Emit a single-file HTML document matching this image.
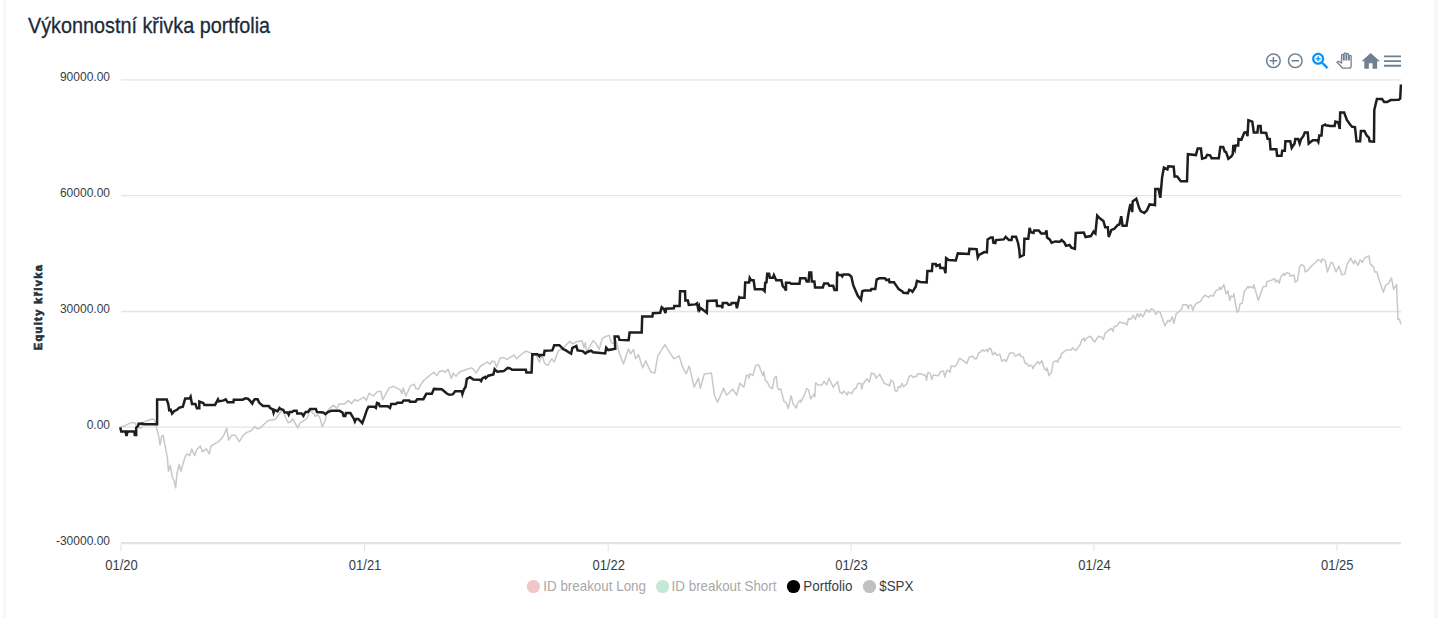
<!DOCTYPE html>
<html><head><meta charset="utf-8">
<style>
html,body{margin:0;padding:0;background:#fff;}
body{width:1447px;height:618px;position:relative;overflow:hidden;font-family:"Liberation Sans",sans-serif;}
.edgeL{position:absolute;left:3px;top:0;width:3px;height:618px;background:#f6f7f9;}
.edgeR{position:absolute;left:1434px;top:0;width:4px;height:618px;background:#f7f8fa;}
.title{position:absolute;left:28px;top:13.6px;font-size:22px;line-height:24px;color:#1b2b3b;white-space:nowrap;transform:scaleX(0.90);transform-origin:0 0;-webkit-text-stroke:0.3px #1b2b3b;}
svg.chart{position:absolute;left:0;top:0;}
</style></head>
<body>
<div class="edgeL"></div><div class="edgeR"></div>
<div class="title">Výkonnostní křivka portfolia</div>
<svg class="chart" width="1447" height="618" viewBox="0 0 1447 618">
<g><line x1="121" y1="79.9" x2="1401" y2="79.9" stroke="#e4e4e4" stroke-width="1.3"/><line x1="121" y1="195.7" x2="1401" y2="195.7" stroke="#e4e4e4" stroke-width="1.3"/><line x1="121" y1="311.5" x2="1401" y2="311.5" stroke="#e4e4e4" stroke-width="1.3"/><line x1="121" y1="427.2" x2="1401" y2="427.2" stroke="#e4e4e4" stroke-width="1.3"/><line x1="121" y1="543.1" x2="1401" y2="543.1" stroke="#e2e2e2" stroke-width="2.4"/><line x1="121" y1="544" x2="121" y2="551" stroke="#e6e6e6" stroke-width="1.2"/><line x1="364.6" y1="544" x2="364.6" y2="551" stroke="#e6e6e6" stroke-width="1.2"/><line x1="608.2" y1="544" x2="608.2" y2="551" stroke="#e6e6e6" stroke-width="1.2"/><line x1="851.0" y1="544" x2="851.0" y2="551" stroke="#e6e6e6" stroke-width="1.2"/><line x1="1094.0" y1="544" x2="1094.0" y2="551" stroke="#e6e6e6" stroke-width="1.2"/><line x1="1336.8" y1="544" x2="1336.8" y2="551" stroke="#e6e6e6" stroke-width="1.2"/></g>
<g font-family="Liberation Sans, sans-serif" font-size="12" fill="#373d3f"><text x="110" y="81.4" text-anchor="end">90000.00</text><text x="110" y="197.2" text-anchor="end">60000.00</text><text x="110" y="313.0" text-anchor="end">30000.00</text><text x="110" y="428.7" text-anchor="end">0.00</text><text x="110" y="544.5" text-anchor="end">-30000.00</text></g>
<g font-family="Liberation Sans, sans-serif" font-size="13" fill="#373d3f"><text x="121.5" y="569.8" text-anchor="middle" transform="translate(0 569.8) scale(1 1.1) translate(0 -569.8)">01/20</text><text x="365.1" y="569.8" text-anchor="middle" transform="translate(0 569.8) scale(1 1.1) translate(0 -569.8)">01/21</text><text x="608.7" y="569.8" text-anchor="middle" transform="translate(0 569.8) scale(1 1.1) translate(0 -569.8)">01/22</text><text x="851.5" y="569.8" text-anchor="middle" transform="translate(0 569.8) scale(1 1.1) translate(0 -569.8)">01/23</text><text x="1094.5" y="569.8" text-anchor="middle" transform="translate(0 569.8) scale(1 1.1) translate(0 -569.8)">01/24</text><text x="1337.3" y="569.8" text-anchor="middle" transform="translate(0 569.8) scale(1 1.1) translate(0 -569.8)">01/25</text></g>
<text x="0" y="0" transform="translate(42 307) rotate(-90)" text-anchor="middle" font-family="Liberation Sans, sans-serif" font-size="11" font-weight="bold" letter-spacing="1.4" fill="#263238" stroke="#263238" stroke-width="0.7">Equity křivka</text>
<path d="M120.7 426.7 L124.6 425.8 L131.4 422.4 L135.2 422.9 L136.7 426.7 L138.6 427.7 L141.1 428.2 L143.5 422.4 L148.8 420.0 L150.8 419.5 L152.7 419.0 L154.2 419.5 L155.6 423.3 L156.2 426.6 L158.7 436.3 L160.0 445.0 L161.6 436.3 L163.2 435.3 L165.5 448.0 L167.4 457.7 L168.4 471.3 L170.3 465.4 L172.3 477.1 L174.2 481.0 L175.6 487.8 L177.1 473.2 L179.1 464.5 L181.0 471.3 L183.0 463.5 L184.9 457.7 L186.8 453.8 L189.8 455.7 L191.7 448.9 L194.6 455.7 L196.6 449.9 L200.4 446.0 L202.4 451.8 L206.3 448.9 L209.2 453.8 L211.1 446.0 L214.0 444.1 L217.9 442.1 L221.8 438.3 L223.7 435.3 L226.7 428.2 L228.6 440.2 L231.5 435.3 L235.4 435.3 L239.3 441.7 L243.2 435.3 L247.0 432.4 L250.9 430.9 L254.8 426.6 L256.7 428.5 L259.7 428.5 L264.5 423.7 L268.4 420.4 L272.3 419.8 L274.0 419.8 L276.8 417.6 L280.2 412.5 L283.0 409.1 L284.7 415.3 L288.1 422.7 L290.9 421.5 L292.6 418.7 L297.7 427.8 L300.0 423.2 L305.1 419.8 L307.4 417.6 L310.2 410.2 L313.6 413.6 L315.3 416.4 L317.6 414.7 L319.8 417.6 L322.3 426.6 L325.5 419.8 L326.1 413.0 L328.9 409.1 L333.4 405.1 L336.8 408.5 L339.1 404.0 L344.7 404.0 L348.1 400.6 L351.5 403.4 L354.9 399.4 L357.2 401.1 L364.0 397.2 L366.3 400.6 L369.1 393.2 L373.1 396.0 L377.6 391.5 L381.0 391.5 L382.7 400.0 L388.9 388.1 L393.4 386.4 L400.2 389.8 L401.9 393.8 L403.1 388.1 L405.9 396.0 L410.4 385.9 L414.4 384.2 L415.5 388.1 L418.4 389.3 L420.6 384.7 L424.0 380.2 L430.0 375.1 L433.9 372.4 L437.1 375.7 L439.1 371.8 L442.9 370.5 L444.9 372.4 L448.1 369.2 L451.4 378.3 L453.3 373.1 L455.9 376.3 L459.8 371.8 L463.7 370.5 L466.9 369.2 L471.4 367.9 L474.0 369.8 L476.0 373.1 L480.5 366.0 L484.4 364.0 L487.0 362.1 L490.2 364.0 L492.1 360.8 L494.7 362.1 L496.7 367.2 L499.9 358.2 L503.8 357.5 L506.4 359.5 L509.0 358.2 L514.1 355.0 L516.7 358.8 L520.6 355.0 L525.8 351.1 L531.0 353.0 L533.6 355.6 L536.1 355.0 L539.4 362.1 L542.0 355.0 L544.6 363.4 L547.8 365.3 L551.7 358.8 L554.3 362.1 L558.2 351.1 L563.3 347.8 L569.8 341.4 L572.4 343.9 L577.6 341.4 L582.1 340.7 L584.0 347.8 L585.3 342.7 L586.6 351.7 L587.0 351.7 L593.1 340.6 L596.1 343.7 L599.2 349.3 L602.2 338.6 L605.2 336.6 L609.3 335.6 L611.3 342.6 L614.3 343.7 L616.4 340.6 L619.4 353.8 L623.4 363.9 L628.5 348.7 L630.5 353.8 L633.5 349.3 L635.6 358.8 L638.6 354.8 L642.6 367.9 L645.7 360.8 L650.7 372.0 L654.8 373.0 L657.8 355.8 L664.9 344.7 L667.9 349.7 L674.0 358.8 L679.1 355.8 L682.1 365.9 L686.1 374.0 L689.2 365.9 L694.2 387.1 L698.3 378.0 L700.3 388.2 L704.3 374.0 L711.4 373.0 L714.4 395.2 L717.5 402.3 L723.6 388.2 L726.6 395.2 L732.7 389.2 L736.7 395.2 L740.0 383.0 L741.3 384.7 L743.9 387.2 L746.5 375.0 L748.4 376.2 L749.1 378.2 L749.7 373.7 L752.9 375.6 L755.5 365.9 L758.1 364.6 L759.4 366.5 L762.7 375.6 L763.9 371.7 L765.2 380.1 L767.2 382.1 L769.8 387.2 L772.4 388.5 L774.3 378.2 L776.2 376.2 L777.5 387.2 L778.8 389.8 L780.8 388.9 L784.0 401.5 L786.6 403.4 L788.2 408.6 L791.1 395.7 L793.1 404.1 L796.3 408.0 L797.6 403.4 L800.2 400.2 L800.8 402.1 L804.7 394.4 L806.7 388.5 L808.6 389.8 L810.6 398.9 L814.4 393.7 L814.8 397.0 L815.7 382.7 L817.7 384.7 L821.6 385.3 L824.1 381.4 L826.7 384.7 L829.1 378.2 L833.2 387.2 L837.7 381.4 L839.7 391.8 L842.3 393.7 L843.6 391.1 L847.4 395.0 L848.1 391.8 L852.0 393.7 L853.9 389.2 L855.9 388.5 L857.8 383.4 L861.0 383.4 L861.7 389.2 L863.0 384.0 L866.9 378.8 L869.4 382.1 L871.4 373.0 L874.6 374.3 L875.9 378.2 L879.8 374.3 L884.3 383.4 L887.6 384.7 L889.5 386.0 L890.8 380.1 L893.4 382.1 L895.3 391.1 L897.3 391.1 L898.2 386.7 L900.2 387.3 L902.1 383.4 L903.4 386.7 L906.7 384.1 L909.2 376.3 L911.2 375.4 L913.1 377.2 L916.4 376.3 L917.7 373.7 L921.5 373.7 L922.8 375.0 L925.4 375.0 L926.5 380.2 L928.0 372.4 L930.0 373.1 L931.9 379.5 L933.2 375.0 L938.4 375.7 L940.3 371.8 L943.5 371.1 L944.8 377.0 L946.8 370.5 L949.4 371.1 L950.0 372.4 L951.3 366.0 L954.5 366.6 L957.1 364.0 L959.5 358.2 L963.6 360.8 L966.8 363.4 L969.4 356.9 L972.7 356.2 L974.6 358.8 L976.6 358.8 L978.5 353.0 L981.1 351.7 L982.4 349.8 L984.3 351.1 L986.9 349.5 L987.6 351.7 L989.5 348.2 L990.8 348.5 L992.7 354.7 L994.7 352.4 L996.6 355.2 L999.9 354.3 L1001.8 361.2 L1004.4 359.5 L1006.3 361.4 L1009.6 353.0 L1013.4 353.0 L1015.4 356.2 L1018.6 354.3 L1019.9 353.7 L1020.6 356.2 L1023.2 356.9 L1025.1 363.4 L1027.0 363.4 L1028.3 366.0 L1030.3 365.3 L1032.2 366.0 L1032.9 368.5 L1034.8 365.3 L1038.0 361.4 L1039.3 364.0 L1041.9 360.8 L1044.5 369.2 L1046.5 370.5 L1047.1 367.9 L1049.0 375.7 L1051.6 371.8 L1053.2 362.2 L1056.5 360.6 L1057.8 362.2 L1058.9 358.2 L1060.5 358.2 L1061.3 353.8 L1066.2 350.1 L1071.0 350.1 L1072.7 347.7 L1075.9 350.6 L1078.3 346.9 L1079.9 345.2 L1081.6 340.4 L1084.0 338.0 L1084.8 341.2 L1087.2 337.6 L1090.5 336.3 L1094.5 342.0 L1098.5 336.3 L1101.8 337.2 L1103.4 339.6 L1105.0 333.1 L1108.3 330.7 L1111.5 328.3 L1113.1 331.5 L1113.9 326.6 L1116.3 326.6 L1119.6 321.8 L1122.8 323.4 L1124.4 322.6 L1126.9 325.0 L1128.5 318.5 L1130.9 319.4 L1133.3 315.3 L1135.4 319.4 L1137.4 313.7 L1139.0 316.9 L1140.6 313.7 L1143.0 316.9 L1146.3 309.6 L1149.5 312.1 L1151.1 308.8 L1153.6 309.6 L1156.0 314.5 L1157.6 311.3 L1160.0 312.1 L1164.9 325.8 L1168.1 320.2 L1169.7 321.8 L1172.2 316.9 L1173.8 323.4 L1176.2 313.7 L1179.4 311.3 L1181.9 308.8 L1182.7 304.8 L1186.7 304.8 L1188.3 308.8 L1189.2 305.3 L1191.6 305.3 L1192.7 310.5 L1194.0 307.2 L1196.4 303.2 L1200.5 301.6 L1202.1 298.3 L1205.3 295.1 L1208.6 297.4 L1210.8 295.3 L1213.0 296.3 L1215.9 290.9 L1218.8 289.4 L1219.6 287.2 L1221.0 289.4 L1223.9 284.6 L1226.1 293.8 L1228.0 290.9 L1229.8 300.4 L1231.2 296.0 L1233.4 296.7 L1233.8 293.8 L1237.0 312.0 L1238.5 311.3 L1240.0 304.0 L1242.1 303.3 L1244.3 291.6 L1248.0 286.5 L1248.7 288.0 L1250.2 286.5 L1253.1 288.0 L1253.8 284.6 L1258.2 300.4 L1263.3 286.5 L1266.2 286.5 L1266.9 281.7 L1272.0 280.0 L1274.9 278.5 L1275.6 282.1 L1277.8 280.0 L1279.3 283.2 L1280.7 277.0 L1283.7 273.4 L1284.4 275.6 L1286.6 272.7 L1289.5 273.4 L1290.2 276.3 L1293.9 274.9 L1295.3 282.1 L1297.5 280.7 L1299.7 266.1 L1301.9 264.7 L1304.1 266.1 L1305.2 271.9 L1307.7 270.5 L1309.9 267.6 L1312.8 264.7 L1315.7 262.5 L1317.9 259.6 L1320.1 260.3 L1321.5 262.5 L1322.3 258.8 L1325.2 260.3 L1327.4 271.9 L1331.0 262.5 L1332.5 262.5 L1336.1 271.9 L1339.0 266.1 L1341.9 274.9 L1344.8 274.1 L1347.0 264.7 L1350.7 258.1 L1353.6 263.9 L1355.0 260.3 L1358.0 265.4 L1360.1 259.6 L1362.3 262.5 L1364.5 258.1 L1368.9 255.9 L1370.3 263.9 L1374.0 267.6 L1374.7 271.9 L1376.9 271.9 L1379.1 280.0 L1383.4 292.3 L1385.6 285.1 L1388.5 283.6 L1391.5 277.8 L1393.6 289.4 L1396.6 284.6 L1398.0 319.3 L1399.5 319.3 L1400.9 324.4" fill="none" stroke="#c8c8c8" stroke-width="1.5" stroke-linejoin="round" stroke-linecap="butt"/>
<path d="M120.2 427.2 L121.2 431.6 L125.5 431.6 L126.5 436.0 L127.5 431.6 L134.3 431.6 L134.8 435.0 L136.2 435.0 L136.2 427.7 L138.2 425.8 L138.6 423.8 L142.5 423.6 L144.0 424.3 L157.1 424.3 L157.1 399.6 L166.8 399.6 L168.3 404.4 L169.2 410.2 L170.7 409.8 L172.1 413.6 L174.1 411.2 L177.0 409.8 L178.9 407.8 L182.8 406.8 L185.2 398.6 L189.6 398.6 L190.6 396.7 L192.0 403.9 L195.4 403.9 L196.9 408.3 L199.3 408.3 L199.3 401.5 L203.3 403.0 L204.3 404.9 L215.0 404.9 L218.0 399.4 L218.9 401.4 L223.7 400.4 L225.7 399.4 L227.6 402.3 L233.4 402.3 L233.8 399.8 L242.6 399.7 L245.5 398.3 L247.9 398.7 L249.9 400.7 L252.3 403.6 L253.3 401.2 L254.7 399.2 L257.6 399.2 L259.1 402.6 L263.0 406.0 L268.8 406.0 L270.2 408.0 L272.7 409.4 L273.6 412.8 L274.6 409.9 L277.5 411.4 L279.5 408.0 L280.4 408.9 L283.3 409.9 L284.7 412.5 L287.6 412.5 L288.7 414.7 L289.8 411.9 L292.1 411.9 L293.8 410.8 L296.6 410.8 L297.2 413.6 L301.7 413.6 L303.4 415.9 L304.5 413.6 L305.7 411.9 L307.9 411.9 L310.2 409.1 L315.9 409.1 L317.0 412.1 L323.2 412.5 L325.5 414.2 L327.8 412.1 L331.2 410.8 L339.6 410.8 L342.5 412.5 L343.6 415.9 L345.3 415.9 L345.9 413.0 L350.4 413.0 L353.8 418.7 L354.9 421.5 L356.1 418.9 L358.3 418.9 L362.3 423.2 L365.1 415.3 L366.8 410.2 L368.5 406.8 L374.2 406.8 L375.9 407.9 L377.0 402.8 L378.7 403.4 L379.9 406.2 L387.8 406.2 L390.0 407.9 L391.2 404.0 L395.7 404.0 L397.4 402.8 L401.9 402.8 L403.6 400.6 L409.3 400.6 L409.9 401.7 L415.5 401.7 L417.2 399.2 L423.4 399.2 L426.3 393.8 L430.0 393.8 L431.9 393.8 L433.9 388.9 L441.7 389.3 L444.2 391.2 L446.8 393.5 L449.4 394.8 L452.7 394.4 L455.2 391.2 L461.7 391.2 L462.4 394.0 L463.7 389.9 L465.6 386.7 L466.9 378.9 L470.1 377.2 L473.4 379.5 L479.8 379.8 L481.1 381.1 L482.4 378.3 L485.0 377.0 L485.7 378.3 L488.3 375.7 L493.4 374.4 L494.7 369.2 L497.3 371.8 L503.8 371.1 L507.7 367.9 L509.6 368.2 L512.2 369.8 L525.8 369.8 L526.4 372.4 L531.6 372.4 L532.3 354.3 L537.4 354.3 L539.4 356.2 L540.0 355.0 L543.9 355.0 L544.6 350.8 L552.3 350.4 L554.3 345.2 L559.4 345.2 L563.3 349.1 L565.9 350.4 L569.8 353.0 L571.1 353.7 L572.4 347.8 L576.3 345.9 L577.6 350.4 L582.7 351.1 L585.3 353.4 L587.9 351.7 L591.1 350.7 L593.1 352.2 L605.2 353.4 L606.2 347.7 L608.3 350.1 L615.3 348.7 L614.6 336.5 L618.4 336.5 L619.4 339.9 L628.6 340.3 L629.6 332.6 L641.7 332.6 L642.2 316.5 L652.4 316.5 L652.9 313.2 L660.2 312.7 L661.7 307.3 L664.1 309.3 L665.5 313.2 L666.0 308.8 L673.8 308.3 L674.3 305.9 L679.6 305.9 L680.1 291.3 L685.0 291.3 L685.4 300.5 L687.9 300.5 L688.8 304.9 L695.6 304.4 L697.1 303.4 L698.1 308.3 L699.0 306.4 L699.5 310.2 L701.0 308.3 L706.8 312.7 L707.3 301.0 L716.5 300.5 L717.0 305.9 L721.8 305.9 L722.3 308.3 L722.8 303.0 L727.2 303.0 L728.6 304.9 L731.1 304.4 L731.6 303.0 L735.9 303.0 L736.9 308.3 L739.3 297.1 L740.0 297.5 L744.5 297.7 L745.2 282.4 L749.1 282.4 L749.7 278.0 L751.0 280.2 L753.6 280.2 L754.9 289.3 L762.7 289.3 L764.6 291.2 L765.2 282.8 L766.5 282.4 L767.2 273.8 L769.1 273.8 L769.8 277.7 L773.0 277.7 L773.9 275.1 L776.2 280.2 L781.4 280.2 L782.7 286.1 L784.7 288.0 L786.0 290.6 L786.0 282.8 L789.8 282.8 L791.1 283.7 L799.5 283.7 L800.2 278.3 L805.4 278.3 L806.7 281.5 L808.6 281.5 L809.3 272.5 L811.2 272.5 L811.8 281.5 L814.4 281.5 L815.1 287.4 L822.8 287.4 L824.1 283.5 L828.0 283.5 L829.3 285.8 L833.2 285.8 L834.5 290.0 L836.8 290.0 L837.1 271.8 L838.4 275.1 L841.6 275.1 L842.3 276.4 L843.6 274.4 L848.7 274.4 L851.3 276.4 L853.3 285.4 L857.8 295.8 L861.0 299.7 L862.3 291.2 L864.3 290.6 L870.7 290.6 L871.4 288.9 L875.3 288.9 L876.6 279.6 L879.2 278.3 L885.0 278.3 L886.3 280.2 L888.9 279.6 L889.5 282.2 L894.0 282.2 L896.6 286.1 L898.6 289.0 L902.1 291.2 L903.4 292.8 L907.9 293.1 L909.2 289.9 L911.2 290.6 L912.5 291.8 L915.7 286.7 L917.0 280.8 L920.2 281.9 L926.7 282.4 L927.4 271.1 L931.9 271.1 L932.5 264.0 L935.8 264.0 L936.4 266.0 L939.7 264.7 L940.3 267.9 L944.2 267.9 L945.5 273.1 L946.1 258.2 L948.7 260.1 L955.8 260.4 L957.8 253.4 L968.8 253.9 L969.4 248.7 L976.6 249.1 L977.8 257.5 L979.1 255.0 L984.3 252.1 L986.9 252.4 L987.6 239.4 L990.8 237.5 L992.7 237.5 L993.4 242.7 L995.3 243.0 L996.0 240.1 L1003.7 239.4 L1005.7 236.8 L1008.9 240.1 L1011.5 240.1 L1012.2 236.8 L1016.0 236.8 L1018.0 242.7 L1019.3 249.8 L1019.9 256.9 L1023.8 255.0 L1024.4 238.8 L1028.3 238.8 L1029.6 227.8 L1030.9 232.3 L1033.5 232.9 L1034.2 230.4 L1038.7 230.4 L1041.3 233.6 L1045.2 233.6 L1046.5 230.4 L1047.1 237.5 L1049.7 239.4 L1051.6 242.7 L1052.7 242.3 L1055.3 241.4 L1059.8 241.8 L1061.6 240.0 L1064.2 242.3 L1066.0 245.9 L1069.6 245.0 L1071.4 247.7 L1074.9 248.9 L1075.8 232.9 L1083.8 232.5 L1085.6 237.0 L1090.9 236.1 L1093.6 231.6 L1095.4 233.4 L1097.2 215.6 L1099.8 218.3 L1103.4 221.0 L1105.2 227.2 L1107.8 227.2 L1108.7 237.0 L1111.4 229.9 L1114.1 229.0 L1117.6 225.1 L1119.4 224.5 L1121.2 216.2 L1122.6 225.8 L1126.5 225.8 L1129.2 209.4 L1130.4 204.1 L1132.2 212.1 L1132.7 201.4 L1136.3 198.7 L1139.0 207.6 L1140.7 211.2 L1144.3 213.0 L1147.0 210.3 L1149.6 204.4 L1155.0 205.0 L1155.3 188.9 L1158.5 188.9 L1160.3 197.8 L1162.1 177.4 L1163.9 167.6 L1167.4 169.4 L1168.3 166.3 L1173.7 166.7 L1174.6 176.5 L1177.2 176.5 L1180.8 181.3 L1187.0 181.3 L1187.9 154.2 L1195.9 155.1 L1197.7 148.5 L1200.9 148.5 L1202.1 158.7 L1205.7 157.8 L1207.2 154.8 L1210.1 155.4 L1211.6 158.3 L1218.8 158.3 L1220.3 147.1 L1223.2 147.1 L1224.7 151.5 L1226.1 152.2 L1228.3 158.8 L1231.2 156.6 L1232.7 154.4 L1233.4 144.9 L1234.9 149.3 L1235.6 145.6 L1238.2 145.6 L1238.5 139.1 L1241.4 139.8 L1244.3 132.5 L1246.5 132.1 L1247.5 136.2 L1248.4 120.2 L1252.3 121.6 L1253.8 132.5 L1257.4 132.5 L1258.2 126.0 L1260.6 126.0 L1261.1 132.5 L1266.2 133.0 L1267.6 138.8 L1269.8 139.1 L1270.5 149.3 L1276.4 149.3 L1277.1 155.8 L1281.5 155.8 L1282.2 150.7 L1284.8 150.7 L1285.4 141.3 L1290.2 141.3 L1291.7 147.8 L1294.6 143.5 L1295.3 139.1 L1298.2 139.1 L1299.7 143.5 L1301.1 139.1 L1303.3 136.2 L1304.8 132.5 L1307.7 132.5 L1308.7 143.5 L1312.8 140.3 L1317.2 140.3 L1318.3 142.0 L1319.3 135.5 L1321.5 135.5 L1322.3 126.0 L1325.2 124.5 L1325.9 125.3 L1330.3 126.0 L1334.6 126.0 L1335.4 121.6 L1338.3 122.3 L1339.7 128.9 L1340.2 112.6 L1344.1 112.6 L1347.0 120.2 L1350.7 125.3 L1352.1 126.7 L1355.0 127.1 L1356.5 141.3 L1360.1 141.3 L1360.9 131.1 L1364.5 131.1 L1366.7 135.5 L1368.9 137.6 L1369.6 141.3 L1374.0 141.7 L1374.3 110.0 L1376.9 99.0 L1382.0 99.0 L1384.2 102.0 L1387.1 102.0 L1390.7 100.1 L1398.7 99.8 L1400.2 98.6 L1400.9 84.5" fill="none" stroke="#1e1e1e" stroke-width="2.5" stroke-linejoin="miter" stroke-miterlimit="4" stroke-linecap="butt"/>
<!-- toolbar -->
<g fill="#6E8192">
  <svg x="1264.4" y="51.8" width="18" height="18" viewBox="0 0 24 24"><path d="M13 7h-2v4H7v2h4v4h2v-4h4v-2h-4V7zm-1-5C6.48 2 2 6.48 2 12s4.48 10 10 10 10-4.48 10-10S17.52 2 12 2zm0 18c-4.41 0-8-3.59-8-8s3.59-8 8-8 8 3.59 8 8-3.59 8-8 8z"/></svg>
  <svg x="1286.3" y="51.8" width="18" height="18" viewBox="0 0 24 24"><path d="M7 11v2h10v-2H7zm5-9C6.48 2 2 6.48 2 12s4.48 10 10 10 10-4.48 10-10S17.52 2 12 2zm0 18c-4.41 0-8-3.59-8-8s3.59-8 8-8 8 3.59 8 8-3.59 8-8 8z"/></svg>
  <svg x="1309.6" y="50.2" width="21.6" height="21.6" viewBox="0 0 24 24" fill="#008FFB" stroke="#008FFB" stroke-width="0.45"><path d="M15.5 14h-.79l-.28-.27C15.41 12.59 16 11.11 16 9.5 16 5.91 13.09 3 9.5 3S3 5.91 3 9.5 5.91 16 9.5 16c1.61 0 3.090-.59 4.23-1.57l.27.28v.79l5 4.99L20.49 19l-4.99-5zm-6 0C7.01 14 5 11.990 5 9.5S7.01 5 9.5 5 14 7.01 14 9.5 11.99 14 9.5 14z"/><path d="M12 10h-2v2H9v-2H7V9h2V7h1v2h2v1z"/></svg>
  <svg x="1336.4" y="52.8" width="15.4" height="15.4" viewBox="0 0 24 24" overflow="visible"><path fill="#fff" stroke="#6E8192" stroke-width="2" d="M23 5.5V20c0 2.2-1.8 4-4 4h-7.3c-1.08 0-2.1-.43-2.85-1.19L1 14.83s1.26-1.23 1.3-1.25c.22-.19.49-.29.79-.29.22 0 .42.06.6.16.04.01 4.31 2.46 4.31 2.46V4c0-.83.67-1.5 1.5-1.5S11 3.17 11 4v7h1V1.5c0-.83.67-1.5 1.5-1.5S15 .67 15 1.5V11h1V2.5c0-.83.67-1.5 1.5-1.5s1.5.67 1.5 1.5V11h1V5.5c0-.83.67-1.5 1.5-1.5s1.5.67 1.5 1.5z"/></svg>
  <svg x="1359.7" y="50.1" width="22" height="22.4" viewBox="0 0 24 24" preserveAspectRatio="none"><path d="M10 20v-6h4v6h5v-8h3L12 3 2 12h3v8z"/></svg>
  <svg x="1381.2" y="49.8" width="22.6" height="22.6" viewBox="0 0 24 24"><path d="M3 18h18v-2H3v2zm0-5h18v-2H3v2zm0-7v2h18V6H3z"/></svg>
</g>
<!-- legend -->
<g>
  <circle cx="533.4" cy="586.5" r="6.6" fill="#f2c6c8"/>
  <circle cx="662.6" cy="586.5" r="6.6" fill="#c6e8d8"/>
  <circle cx="793.5" cy="586.5" r="6.6" fill="#000000"/>
  <circle cx="869.5" cy="586.5" r="6.6" fill="#c0c0c0"/>
</g>
<g font-family="Liberation Sans, sans-serif" font-size="13.4" transform="translate(0 590.8) scale(1 1.07) translate(0 -590.8)">
  <text x="543.3" y="590.8" fill="#a8a8a8">ID breakout Long</text>
  <text x="671.6" y="590.8" fill="#a8a8a8">ID breakout Short</text>
  <text x="803.3" y="590.8" fill="#373d3f">Portfolio</text>
  <text x="879.2" y="590.8" fill="#373d3f">$SPX</text>
</g>
</svg>
</body></html>
